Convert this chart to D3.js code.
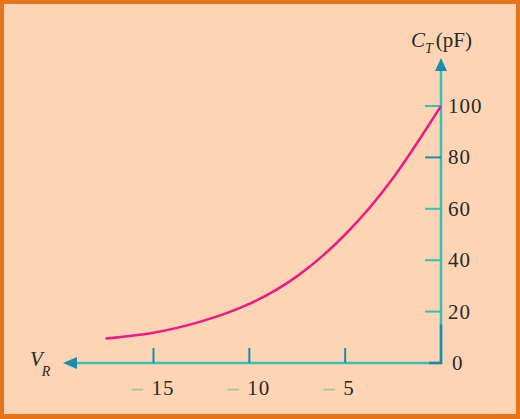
<!DOCTYPE html>
<html><head><meta charset="utf-8">
<script src="https://cdn.jsdelivr.net/npm/d3@7/dist/d3.min.js"></script>
<style>html,body{margin:0;padding:0;background:#fff}svg{display:block}</style>
</head><body>
<script>
// Data
const vr = [-17.5, -15, -12.5, -10, -7.5, -5, -2.5, 0];
const ct = [9.5, 11.8, 16.2, 23, 33.8, 50, 72, 100];
const xTicks = [-15, -10, -5];
const yTicks = [0, 20, 40, 60, 80, 100];

const W = 520, H = 419;
const svg = d3.select("body").append("svg").attr("width", W).attr("height", H);

svg.append("rect").attr("x", 0).attr("y", 0).attr("width", W).attr("height", H).attr("fill", "#E8741A");
svg.append("rect").attr("x", 4).attr("y", 4).attr("width", W - 8).attr("height", H - 9).attr("fill", "#FDD5B5");

const x = d3.scaleLinear().domain([-15, 0]).range([153.5, 441]);
const y = d3.scaleLinear().domain([0, 100]).range([363, 106]);

const teal = "#36C0B6", dark = "#1A8DAE";
const x0 = x(0), y0 = y(0);

// axis lines
svg.append("line").attr("x1", x0).attr("x2", 75).attr("y1", y0).attr("y2", y0)
  .attr("stroke", teal).attr("stroke-width", 2.5);
svg.append("line").attr("x1", x0).attr("x2", x0).attr("y1", y0 + 1).attr("y2", 68)
  .attr("stroke", teal).attr("stroke-width", 2.5);
svg.append("line").attr("x1", x0).attr("x2", x0).attr("y1", y0 + 1).attr("y2", y(15))
  .attr("stroke", dark).attr("stroke-width", 2.5);
svg.append("line").attr("x1", x0 + 1).attr("x2", x0 - 12).attr("y1", y0).attr("y2", y0)
  .attr("stroke", dark).attr("stroke-width", 2.5);
// arrows
svg.append("path").attr("d", `M63,${y0} L77,${y0 - 6} L77,${y0 + 6} Z`).attr("fill", dark);
svg.append("path").attr("d", `M${x0},58 L${x0 - 6},71 L${x0 + 6},71 Z`).attr("fill", dark);

// ticks
svg.selectAll(".xt").data(xTicks).enter().append("line")
  .attr("x1", d => x(d)).attr("x2", d => x(d)).attr("y1", y0).attr("y2", y0 - 15)
  .attr("stroke", dark).attr("stroke-width", 2);
svg.selectAll(".yt").data(yTicks.filter(d => d > 0)).enter().append("line")
  .attr("x1", x0).attr("x2", x0 - 16).attr("y1", d => y(d)).attr("y2", d => y(d))
  .attr("stroke", d => d === 80 ? dark : teal).attr("stroke-width", 2);

const font = "'Liberation Serif','Times New Roman',serif";
// y labels
svg.selectAll(".yl").data(yTicks).enter().append("text")
  .attr("x", d => d === 0 ? 452 : 448).attr("y", d => y(d) + 7)
  .attr("font-family", font).attr("font-size", 21).attr("fill", "#2a2a2a")
  .attr("letter-spacing", 1)
  .text(d => d);

// x labels
svg.selectAll(".xd").data(xTicks).enter().append("text")
  .attr("x", d => x(d) - 11).attr("y", 395).attr("text-anchor", "end")
  .attr("font-family", font).attr("font-size", 21).attr("fill", "#A9C98E")
  .attr("stroke", "#A9C98E").attr("stroke-width", 0.6)
  .text("\u2013");
svg.selectAll(".xl").data(xTicks).enter().append("text")
  .attr("x", d => x(d) - 2).attr("y", 395)
  .attr("font-family", font).attr("font-size", 21).attr("fill", "#2a2a2a")
  .attr("letter-spacing", 1)
  .text(d => Math.abs(d));

// axis titles
const ty = svg.append("text").attr("x", 411).attr("y", 47)
  .attr("font-family", font).attr("font-size", 21).attr("fill", "#2a2a2a");
ty.append("tspan").attr("font-style", "italic").text("C");
ty.append("tspan").attr("font-style", "italic").attr("font-size", 14).attr("dy", 6).text("T");
ty.append("tspan").attr("dy", -6).attr("dx", 3).text("(pF)");

const tx = svg.append("text").attr("x", 30).attr("y", 366)
  .attr("font-family", font).attr("font-size", 21).attr("fill", "#2a2a2a");
tx.append("tspan").attr("font-style", "italic").text("V");
tx.append("tspan").attr("font-style", "italic").attr("font-size", 14).attr("dy", 10).attr("dx", -1).text("R");

// curve
const pts = vr.map((v, i) => [v, ct[i]]);
svg.append("path").datum(pts)
  .attr("d", d3.line().x(d => x(d[0])).y(d => y(d[1])).curve(d3.curveNatural))
  .attr("fill", "none").attr("stroke", "#EE1A86").attr("stroke-width", 2.5);
</script>
</body></html>
